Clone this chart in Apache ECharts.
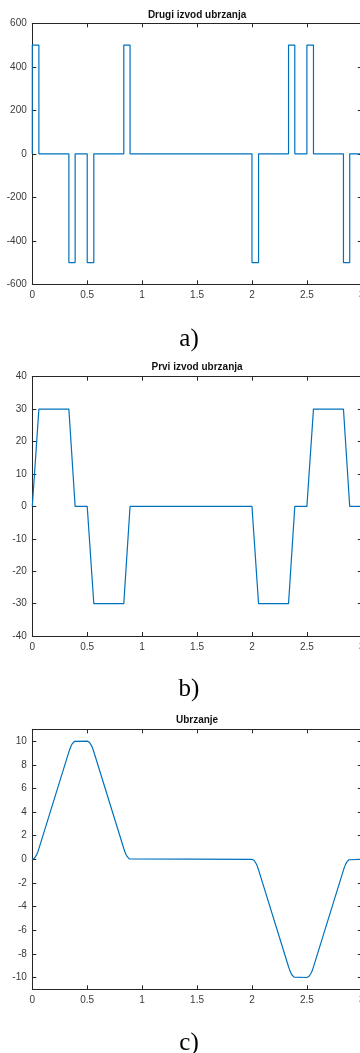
<!DOCTYPE html>
<html>
<head>
<meta charset="utf-8">
<script src="https://cdn.jsdelivr.net/npm/echarts@6/dist/echarts.min.js"></script>
<style>
html,body{margin:0;padding:0;background:#fff;}
#c{width:360px;height:1053px;}
</style>
</head>
<body>
<div id="c"></div>
<script>
// ---- Data ----
const titles = ["Drugi izvod ubrzanja", "Prvi izvod ubrzanja", "Ubrzanje"];
const captions = ["a)", "b)", "c)"];

// Chart a) step function: value holds from t to next t
const jerkT = [0, 0, 0.06, 0.333, 0.39, 0.5, 0.56, 0.833, 0.89, 2.0, 2.06, 2.333, 2.39, 2.5, 2.56, 2.833, 2.89, 3];
const jerkV = [0, 500, 0, -500, 0, -500, 0, 500, 0, -500, 0, 500, 0, 500, 0, -500, 0, 0];

// Chart b) piecewise linear
const djT = [0, 0.06, 0.333, 0.39, 0.5, 0.56, 0.833, 0.89, 2.0, 2.06, 2.333, 2.39, 2.5, 2.56, 2.833, 2.89, 3];
const djV = [0, 30, 30, 0, 0, -30, -30, 0, 0, -30, -30, 0, 0, 30, 30, 0, 0];

// Chart c) acceleration curve
const accT = [0, 0.01, 0.02, 0.03, 0.04, 0.05, 0.06, 0.333, 0.343, 0.353, 0.363, 0.373, 0.383, 0.39, 0.5, 0.51, 0.52, 0.53, 0.54, 0.55, 0.56, 0.833, 0.843, 0.853, 0.863, 0.873, 0.883, 0.89,
              2.0, 2.01, 2.02, 2.03, 2.04, 2.05, 2.06, 2.333, 2.343, 2.353, 2.363, 2.373, 2.383, 2.39, 2.5, 2.51, 2.52, 2.53, 2.54, 2.55, 2.56, 2.833, 2.843, 2.853, 2.863, 2.873, 2.883, 2.89, 3];
const accV = [0, 0.03, 0.1, 0.22, 0.4, 0.62, 0.9, 9.09, 9.36, 9.59, 9.77, 9.89, 9.97, 10, 10, 9.98, 9.9, 9.78, 9.6, 9.38, 9.1, 0.91, 0.64, 0.41, 0.24, 0.11, 0.04, 0,
              0, -0.03, -0.1, -0.22, -0.4, -0.62, -0.9, -9.09, -9.36, -9.59, -9.77, -9.89, -9.97, -10, -10, -9.98, -9.9, -9.78, -9.6, -9.38, -9.1, -0.91, -0.64, -0.41, -0.24, -0.11, -0.04, 0, 0];

const yRanges = [
  {min: -600, max: 600, interval: 200},
  {min: -40, max: 40, interval: 10},
  {min: -11, max: 11, custom: [-10, -8, -6, -4, -2, 0, 2, 4, 6, 8, 10]}
];

// ---- Layout ----
const plotLeft = 32.3, plotWidth = 329.5;
const gridTops = [23.3, 376.7, 729.3];
const gridHeights = [261, 259.3, 260];
const titleY = [15, 367.7, 720.5];
const captionY = [339, 689, 1043];
const captionX = 189;

const axisColor = '#262626';
const labelColor = '#3a3a3a';
const lineColor = '#0072BD';
const sans = 'Liberation Sans, Arial, sans-serif';
const serif = 'Liberation Serif, Times New Roman, serif';

const grids = [], xAxes = [], yAxes = [], series = [], graphics = [];

function zip(a, b) { return a.map((t, i) => [t, b[i]]); }
const datasets = [zip(jerkT, jerkV), zip(djT, djV), zip(accT, accV)];

for (let i = 0; i < 3; i++) {
  grids.push({left: plotLeft, top: gridTops[i], width: plotWidth, height: gridHeights[i], show: false,
    containLabel: false, outerBoundsMode: 'none'});
  const xBase = {
    type: 'value', gridIndex: i, min: 0, max: 3, interval: 0.5,
    axisLine: {show: true, onZero: false, lineStyle: {color: axisColor, width: 1}},
    axisTick: {show: true, inside: true, length: 4, lineStyle: {color: axisColor}},
    splitLine: {show: false}
  };
  xAxes.push(Object.assign({}, xBase, {
    position: 'bottom',
    axisLabel: {show: true, color: labelColor, fontSize: 10, fontFamily: sans, margin: 6, hideOverlap: false}
  }));
  xAxes.push(Object.assign({}, xBase, {position: 'top', axisLabel: {show: false}}));

  const yr = yRanges[i];
  const yBase = {
    type: 'value', gridIndex: i, min: yr.min, max: yr.max,
    axisLine: {show: true, onZero: false, lineStyle: {color: axisColor, width: 1}},
    axisTick: {show: true, inside: true, length: 4, lineStyle: {color: axisColor}},
    splitLine: {show: false}
  };
  if (yr.interval) yBase.interval = yr.interval;
  if (yr.custom) yBase.axisTick.customValues = yr.custom;
  const yLabel = {show: true, color: labelColor, fontSize: 10, fontFamily: sans, margin: 5.5};
  if (yr.custom) yLabel.customValues = yr.custom;
  yAxes.push(Object.assign({}, yBase, {position: 'left', axisLabel: yLabel}));
  yAxes.push(Object.assign({}, yBase, {position: 'right', axisLabel: {show: false},
    axisTick: Object.assign({}, yBase.axisTick)}));

  const s = {
    type: 'line', xAxisIndex: 2 * i, yAxisIndex: 2 * i,
    data: datasets[i], showSymbol: false, symbol: 'none',
    lineStyle: {color: lineColor, width: 1.2}, animation: false, clip: true
  };
  if (i === 0) s.step = 'end';
  series.push(s);

  graphics.push({
    type: 'text', x: plotLeft + plotWidth / 2, y: titleY[i],
    style: {text: titles[i], font: 'bold 10px ' + sans, fill: '#111',
      align: 'center', verticalAlign: 'middle', textAlign: 'center', textVerticalAlign: 'middle'}
  });
  graphics.push({
    type: 'text', x: captionX, y: captionY[i],
    style: {text: captions[i], font: '25px ' + serif, fill: '#000',
      align: 'center', verticalAlign: 'middle', textAlign: 'center', textVerticalAlign: 'middle'}
  });
}

const chart = echarts.init(document.getElementById('c'), null, {renderer: 'canvas'});
chart.setOption({
  animation: false,
  backgroundColor: '#fff',
  grid: grids,
  xAxis: xAxes,
  yAxis: yAxes,
  series: series,
  graphic: graphics
});
</script>
</body>
</html>
